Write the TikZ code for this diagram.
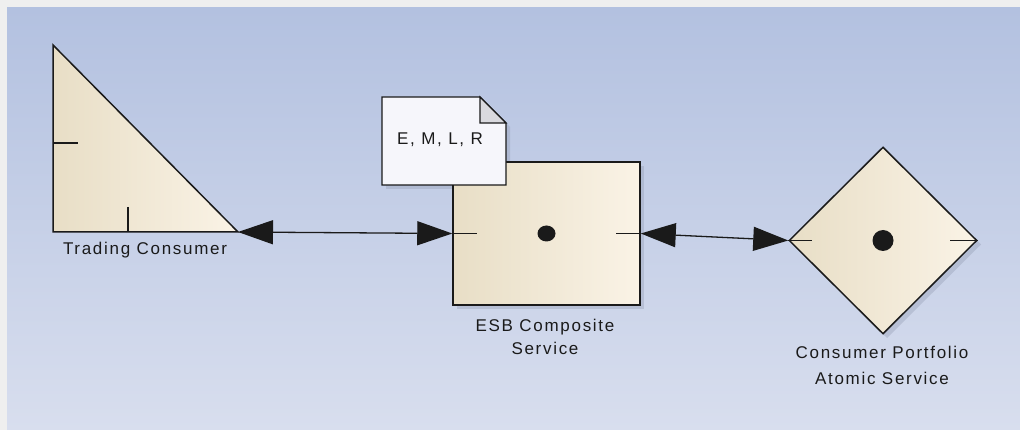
\documentclass[tikz,border=0pt]{standalone}
\usepackage{fontspec}
\newfontfamily\lbl[LetterSpace=10]{Liberation Sans}
\usetikzlibrary{arrows.meta,shapes.geometric}
\definecolor{outer}{HTML}{EFEFEF}
\definecolor{bgtop}{HTML}{B3C1E0}
\definecolor{bgbot}{HTML}{D8DEEE}
\definecolor{nodeL}{HTML}{E8DEC6}
\definecolor{nodeR}{HTML}{FAF3E6}
\definecolor{notebg}{HTML}{F6F6FB}
\definecolor{fold}{HTML}{D9D9DE}
\definecolor{ink}{HTML}{1A1A1A}
\definecolor{shadowc}{HTML}{8E97AE}
\begin{document}
\begin{tikzpicture}[x=1pt,y=-1pt,
 elem/.style={draw=ink, line width=1.5pt, left color=nodeL, right color=nodeR},
 tick/.style={draw=ink, line width=1.3pt},
 conn/.style={draw=ink, line width=1.3pt, {Triangle[length=35pt,width=24pt]}-{Triangle[length=35pt,width=24pt]}},
 lab/.style={font=\lbl\fontsize{17}{23}\selectfont, text=ink, align=center, inner sep=0pt},
 shadowfill/.style={fill=shadowc, opacity=0.35, draw=none}
]
\useasboundingbox (0,0) rectangle (1020,430);
\fill[outer] (0,0) rectangle (1020,430);
\shade[top color=bgtop, bottom color=bgbot] (7,8) rectangle (1020,430);

% shadows
\fill[shadowfill] (457,166) rectangle (644,309);
\fill[shadowfill] (793,244.5) -- (887,151) -- (981,244.5) -- (887,338) -- cycle;
\fill[shadowfill] (386,101) -- (484,101) -- (510,127) -- (510,189) -- (386,189) -- cycle;

% Trading Consumer triangle
\coordinate (tTop) at (53,45);
\coordinate (tBL) at (53,232);
\coordinate (tc) at (238,232);
\draw[elem] (tTop) -- (tBL) -- (tc) -- cycle;
\draw[tick] (53,143) -- (78,143);
\draw[tick] (128,207) -- (128,232);
\node[lab] (tcl) at (145,250) {Trading Consumer};

% ESB Composite Service
\node[elem, rectangle, minimum width=187pt, minimum height=143pt, inner sep=0pt] (esb) at (546.5,233.5) {};
\draw[tick] (esb.west) -- ++(25,0);
\draw[tick] (esb.east) -- ++(-25,0);
\fill[ink] (esb.center) ellipse (9 and 8);
\node[lab] (esbl) at (545,336.5) {ESB Composite\\Service};

% Consumer Portfolio Atomic Service
\node[elem, diamond, minimum width=188pt, minimum height=187pt, inner sep=0pt] (cp) at (883,240.5) {};
\draw[tick] (cp.west) -- ++(24,0);
\draw[tick] (cp.east) -- ++(-28,0);
\fill[ink] (cp.center) circle (10.5);
\node[lab, font=\lbl\fontsize{17}{26}\selectfont] (cpl) at (882,365) {Consumer Portfolio\\Atomic Service};

% note
\draw[draw=ink, line width=1.3pt, fill=notebg] (382,97) -- (480,97) -- (506,123) -- (506,185) -- (382,185) -- cycle;
\draw[draw=ink, line width=1.1pt, fill=fold] (480,97) -- (480,123) -- (506,123) -- cycle;
\node[lab] (note) at (440,140) {E, M, L, R};

% connectors
\draw[conn] (tc) -- (esb.west);
\draw[conn] (esb.east) -- (cp.west);
\end{tikzpicture}
\end{document}
